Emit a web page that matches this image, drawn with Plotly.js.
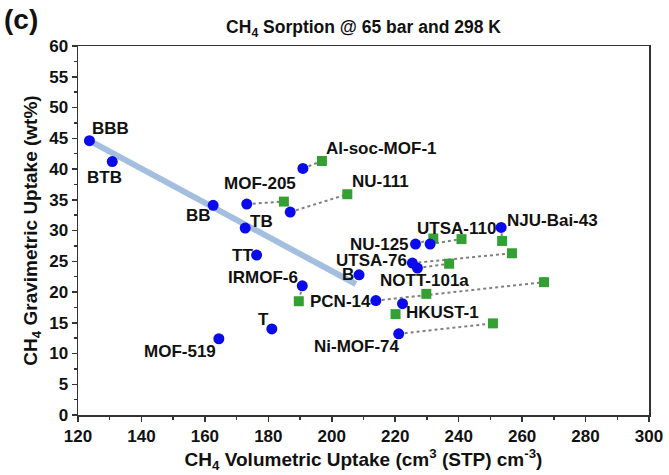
<!DOCTYPE html>
<html>
<head>
<meta charset="utf-8">
<script src="https://cdn.plot.ly/plotly-3.0.1.min.js"></script>
<style>html,body{margin:0;padding:0;background:#fff;}#chart{width:669px;height:475px;}</style>
</head>
<body>
<div id="chart"></div>
<script>
// Simulated (blue circles)
const simNames = ["BBB","BTB","BB","TB","TT","T","B","MOF-519","MOF-205","Al-soc-MOF-1","NU-111","IRMOF-6","PCN-14","NU-125","UTSA-110","NJU-Bai-43","UTSA-76","NOTT-101a","HKUST-1","Ni-MOF-74"];
const simVol  = [123.6,130.8,162.6,172.7,176.3,181.1,208.6,164.4,173.2,190.9,186.9,190.7,213.9,226.4,231.0,253.4,225.4,227.0,222.3,221.1];
const simGrav = [44.6,41.2,34.1,30.4,26.0,14.0,22.8,12.4,34.3,40.1,33.0,21.0,18.6,27.8,27.8,30.5,24.7,23.9,18.1,13.2];

// Experimental (green squares); pairName links to a simulated point ("" = no connector)
const expPair = ["MOF-205","Al-soc-MOF-1","NU-111","IRMOF-6","PCN-14","NU-125","UTSA-110","NJU-Bai-43","UTSA-76","NOTT-101a","Ni-MOF-74","",""];
const expVol  = [184.9,196.9,204.9,189.6,266.9,232.0,240.9,253.7,256.8,237.0,250.8,229.8,220.1];
const expGrav = [34.7,41.3,35.9,18.5,21.6,28.7,28.6,28.3,26.3,24.6,14.9,19.7,16.4];

// Trend line (light blue)
const fitVol  = [123.6,207.6];
const fitGrav = [44.6,21.3];

// Label positions (data coords of label centres)
const labelNames = ["BBB","BTB","MOF-205","BB","TB","TT","IRMOF-6","Al-soc-MOF-1","NU-111","B","PCN-14","NU-125","UTSA-110","NJU-Bai-43","UTSA-76","NOTT-101a","HKUST-1","Ni-MOF-74","T","MOF-519"];
const labelX = [130.2,128.2,177.3,158.1,178.0,171.7,178.3,197.5,205.9,205.0,202.8,215.1,239.4,269.6,212.6,229.1,235.0,193.9,178.6,152.1];
const labelY = [46.6,38.6,37.6,32.4,31.5,25.9,22.4,43.3,38.0,22.9,18.4,27.8,30.4,31.7,25.1,21.8,16.7,11.1,15.6,10.4];
const labelAnchor = ["center","center","center","center","center","center","center","left","left","center","center","center","center","center","center","center","center","left","center","center"];

const FONT = "Liberation Sans, Arial, sans-serif";
const traces = [];

traces.push({x: fitVol, y: fitGrav, mode: "lines", line: {color: "rgb(164,190,224)", width: 6}, hoverinfo: "skip", showlegend: false});

// connectors
const cx = [], cy = [];
expPair.forEach((p, i) => {
  if (!p) return;
  const j = simNames.indexOf(p);
  cx.push(simVol[j], expVol[i], null);
  cy.push(simGrav[j], expGrav[i], null);
});
traces.push({x: cx, y: cy, mode: "lines", line: {color: "rgb(128,128,128)", width: 2, dash: "dot"}, hoverinfo: "skip", showlegend: false});

traces.push({x: expVol, y: expGrav, mode: "markers", marker: {symbol: "square", size: 10, color: "rgb(52,160,52)"}, showlegend: false});
traces.push({x: simVol, y: simGrav, text: simNames, mode: "markers", marker: {symbol: "circle", size: 11, color: "rgb(10,10,235)"}, showlegend: false});

const annotations = labelNames.map((n, i) => ({
  x: labelX[i], y: labelY[i], xref: "x", yref: "y", text: "<b>" + n + "</b>",
  showarrow: false, xanchor: labelAnchor[i], yanchor: "middle",
  font: {family: FONT, size: 17, color: "#111"}
}));
annotations.push({x: -0.1, y: 1.072, xref: "paper", yref: "paper", text: "<b>(c)</b>", showarrow: false,
  xanchor: "center", yanchor: "middle", font: {family: FONT, size: 28, color: "#111"}});

const axisCommon = {
  showgrid: false, zeroline: false, showline: true, linecolor: "#333", linewidth: 1.5, mirror: true,
  ticks: "outside", ticklen: 5, tickwidth: 1.5, tickcolor: "#333",
  tickfont: {family: FONT, size: 17, color: "#111", weight: "bold"}
};

const layout = {
  width: 669, height: 475,
  margin: {l: 78, r: 20, t: 46, b: 60},
  paper_bgcolor: "#fff", plot_bgcolor: "#fff",
  title: {text: "<b>CH<sub>4</sub> Sorption @ 65 bar and 298 K</b>", x: 0.5, xref: "paper", y: 0.943, yanchor: "middle",
    font: {family: FONT, size: 17.5, color: "#111"}},
  xaxis: Object.assign({}, axisCommon, {
    range: [120, 300], dtick: 20, tick0: 120,
    minor: {dtick: 10, ticks: "outside", ticklen: 3, tickwidth: 1.5, tickcolor: "#333"},
    title: {text: "<b>CH<sub>4</sub> Volumetric Uptake (cm<sup>3</sup> (STP) cm<sup>-3</sup>)</b>", standoff: 4,
      font: {family: FONT, size: 19, color: "#111"}}
  }),
  yaxis: Object.assign({}, axisCommon, {
    range: [0, 60], dtick: 5, tick0: 0,
    minor: {dtick: 2.5, ticks: "outside", ticklen: 3, tickwidth: 1.5, tickcolor: "#333"},
    title: {text: "<b>CH<sub>4</sub> Gravimetric Uptake (wt%)</b>", standoff: 6,
      font: {family: FONT, size: 19, color: "#111"}}
  }),
  annotations: annotations
};

Plotly.newPlot("chart", traces, layout, {staticPlot: true, displayModeBar: false});
</script>
</body>
</html>
